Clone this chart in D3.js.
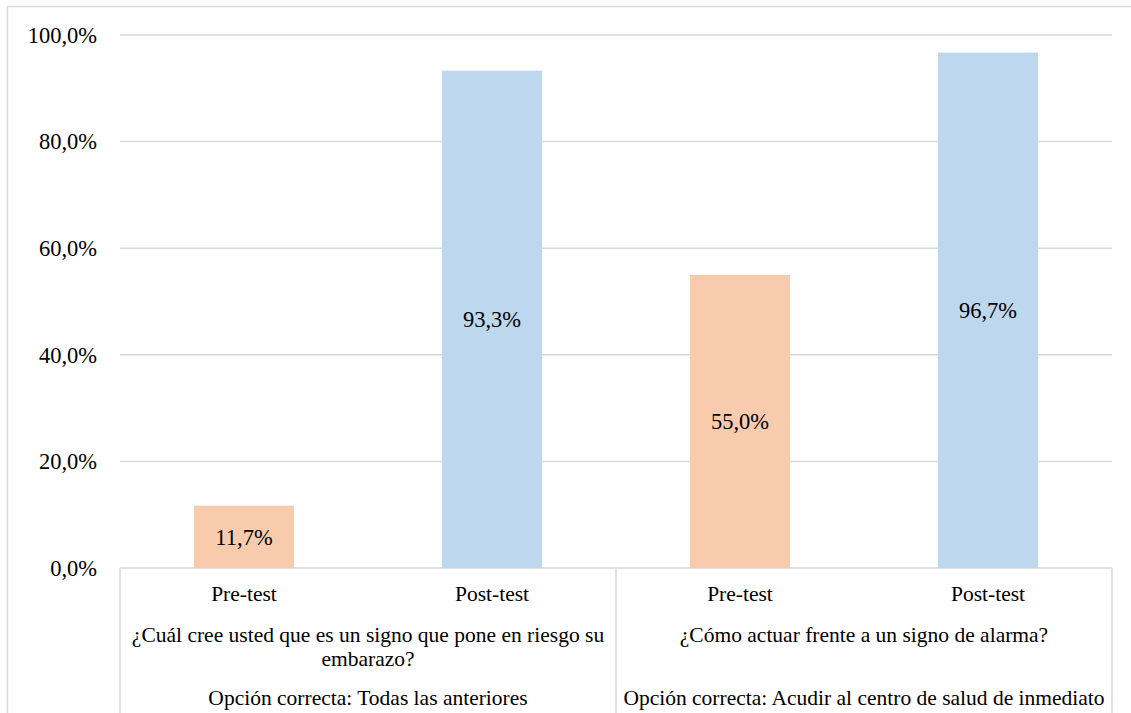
<!DOCTYPE html>
<html>
<head>
<meta charset="utf-8">
<script src="https://cdn.jsdelivr.net/npm/d3@7"></script>
<style>
  body { margin: 0; background: #fff; }
</style>
</head>
<body>
<svg id="chart" width="1131" height="713"></svg>
<script>
// data
const questions = [
  "¿Cuál cree usted que es un signo que pone en riesgo su embarazo?",
  "¿Cómo actuar frente a un signo de alarma?"
];
const answers = [
  "Opción correcta: Todas las anteriores",
  "Opción correcta: Acudir al centro de salud de inmediato"
];
const phases = ["Pre-test", "Post-test"];
const preValues = [11.7, 55.0];
const postValues = [93.3, 96.7];
const yTicks = [0, 20, 40, 60, 80, 100];

const colors = { "Pre-test": "#F8CBAD", "Post-test": "#BDD7EE" };
const fmt = v => d3.format(".1f")(v).replace(".", ",") + "%";
const serif = '"Liberation Serif"';

// flatten into one row per bar
const rows = [];
questions.forEach((q, i) => {
  rows.push({ q: i, phase: "Pre-test", value: preValues[i] });
  rows.push({ q: i, phase: "Post-test", value: postValues[i] });
});

const svg = d3.select("#chart");
const plotLeft = 120, plotRight = 1112, plotTop = 35, plotBottom = 568;
const labelSize = 22.5;  // ticks and bar values
const catSize = 21.5;    // category table text

// outer chart border
svg.append("rect")
  .attr("x", 7.5).attr("y", 6.5)
  .attr("width", 1140).attr("height", 760)
  .attr("fill", "none").attr("stroke", "#d9d9d9").attr("stroke-width", 1.5);

const x0 = d3.scaleBand().domain(d3.range(questions.length)).range([plotLeft, plotRight]);
const x1 = d3.scaleBand().domain(phases).range([0, x0.bandwidth()]);
const y = d3.scaleLinear().domain([0, 100]).range([plotBottom, plotTop]);
const barW = 100;

// gridlines
svg.append("g")
  .selectAll("line")
  .data(yTicks)
  .join("line")
  .attr("x1", plotLeft).attr("x2", plotRight)
  .attr("y1", d => y(d)).attr("y2", d => y(d))
  .attr("stroke", "#d9d9d9").attr("stroke-width", 1.5);

// y tick labels
svg.append("g")
  .selectAll("text")
  .data(yTicks)
  .join("text")
  .attr("x", 97)
  .attr("y", d => y(d))
  .attr("dy", "0.35em")
  .attr("text-anchor", "end")
  .attr("font-size", labelSize)
  .style("font-family", serif)
  .text(d => fmt(d));

// bars
const bars = svg.append("g");
bars.selectAll("rect")
  .data(rows)
  .join("rect")
  .attr("x", d => x0(d.q) + x1(d.phase) + (x1.bandwidth() - barW) / 2)
  .attr("y", d => y(d.value))
  .attr("width", barW)
  .attr("height", d => y(0) - y(d.value))
  .attr("fill", d => colors[d.phase]);

// value labels, centred in each bar
bars.selectAll("text")
  .data(rows)
  .join("text")
  .attr("x", d => x0(d.q) + x1(d.phase) + x1.bandwidth() / 2)
  .attr("y", d => (y(d.value) + y(0)) / 2)
  .attr("dy", "0.35em")
  .attr("text-anchor", "middle")
  .attr("font-size", labelSize)
  .style("font-family", serif)
  .text(d => fmt(d.value));

// category table lines below the axis
const cat = svg.append("g");
cat.selectAll("line")
  .data([plotLeft, x0(1), plotRight])
  .join("line")
  .attr("x1", d => d).attr("x2", d => d)
  .attr("y1", plotBottom).attr("y2", 713)
  .attr("stroke", "#d9d9d9").attr("stroke-width", 1.5);

// phase labels
cat.append("g")
  .selectAll("text")
  .data(rows)
  .join("text")
  .attr("x", d => x0(d.q) + x1(d.phase) + x1.bandwidth() / 2)
  .attr("y", 593)
  .attr("dy", "0.35em")
  .attr("text-anchor", "middle")
  .attr("font-size", catSize)
  .style("font-family", serif)
  .text(d => d.phase);

// question labels (wrapped like the original)
const qLines = [
  ["¿Cuál cree usted que es un signo que pone en riesgo su", "embarazo?"],
  [questions[1]]
];
cat.append("g")
  .selectAll("text")
  .data(questions)
  .join("text")
  .attr("x", (d, i) => x0(i) + x0.bandwidth() / 2)
  .attr("y", 634)
  .attr("text-anchor", "middle")
  .attr("font-size", catSize)
  .style("font-family", serif)
  .each(function(d, i) {
    d3.select(this).selectAll("tspan")
      .data(qLines[i])
      .join("tspan")
      .attr("x", x0(i) + x0.bandwidth() / 2)
      .attr("dy", (t, j) => j === 0 ? "0.35em" : "1.15em")
      .text(t => t);
  });

// correct-answer labels
cat.append("g")
  .selectAll("text")
  .data(answers)
  .join("text")
  .attr("x", (d, i) => x0(i) + x0.bandwidth() / 2)
  .attr("y", 697)
  .attr("dy", "0.35em")
  .attr("text-anchor", "middle")
  .attr("font-size", catSize)
  .style("font-family", serif)
  .text(d => d);
</script>
</body>
</html>
